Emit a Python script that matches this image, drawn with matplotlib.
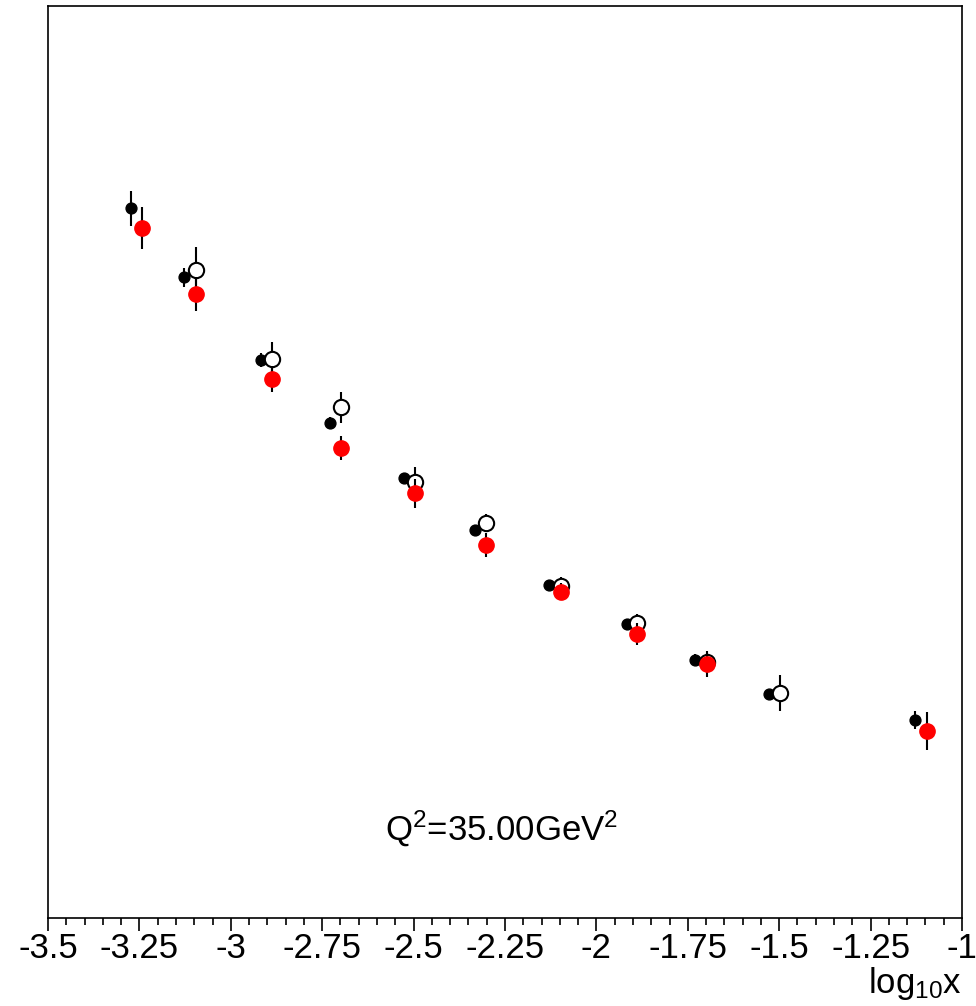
import matplotlib
matplotlib.use("Agg")
from matplotlib import pyplot as plt
from matplotlib.ticker import MultipleLocator, FixedFormatter, FixedLocator

plt.rcParams['font.family'] = ['Liberation Sans', 'DejaVu Sans']
plt.rcParams['mathtext.fontset'] = 'custom'
plt.rcParams['mathtext.rm'] = 'Liberation Sans'
plt.rcParams['mathtext.it'] = 'Liberation Sans'
plt.rcParams['mathtext.sf'] = 'Liberation Sans'

# black filled dots
x_black = [-3.273, -3.128, -2.917, -2.729, -2.526, -2.332, -2.130, -1.916, -1.730, -1.528, -1.129]
y_black = [1.556, 1.405, 1.224, 1.085, 0.964, 0.851, 0.730, 0.644, 0.566, 0.491, 0.434]
e_black = [0.039, 0.021, 0.015, 0.013, 0.011, 0.011, 0.010, 0.012, 0.012, 0.010, 0.019]

# open circles
x_open = [-3.095, -2.887, -2.699, -2.496, -2.302, -2.097, -1.889, -1.697, -1.498]
y_open = [1.421, 1.226, 1.120, 0.957, 0.866, 0.727, 0.646, 0.562, 0.493]
e_open = [0.050, 0.037, 0.034, 0.031, 0.020, 0.021, 0.020, 0.019, 0.039]

# red filled circles
x_red = [-3.243, -3.095, -2.887, -2.699, -2.496, -2.302, -2.097, -1.889, -1.697, -1.096]
y_red = [1.513, 1.368, 1.182, 1.030, 0.931, 0.818, 0.716, 0.623, 0.557, 0.410]
e_red = [0.046, 0.037, 0.028, 0.026, 0.031, 0.026, 0.018, 0.024, 0.028, 0.041]

xticks = [-3.5, -3.25, -3, -2.75, -2.5, -2.25, -2, -1.75, -1.5, -1.25, -1]
xtick_labels = ['-3.5', '-3.25', '-3', '-2.75', '-2.5', '-2.25', '-2', '-1.75', '-1.5', '-1.25', '-1']

fig = plt.figure(figsize=(9.76, 10.06), dpi=100)
ax = fig.add_axes([48 / 976, 88 / 1006, 914 / 976, 912 / 1006])

ax.errorbar(x_black, y_black, yerr=e_black, fmt='o', color='black', ms=7.8,
            elinewidth=1.5, capsize=0, zorder=3)
ax.errorbar(x_open, y_open, yerr=e_open, fmt='o', color='black', mfc='white',
            mec='black', mew=1.5, ms=11, elinewidth=1.5, capsize=0, zorder=4)
ax.errorbar(x_red, y_red, yerr=e_red, fmt='o', color='red', ecolor='black', ms=11,
            elinewidth=1.5, capsize=0, zorder=5)

ax.text(-2.26, 0.195, r'Q$^{2}$=35.00GeV$^{2}$', ha='center', va='center', fontsize=25)

ax.set_xlim(-3.5, -1)
ax.set_ylim(0.0, 2.0)
ax.xaxis.set_major_locator(FixedLocator(xticks))
ax.xaxis.set_major_formatter(FixedFormatter(xtick_labels))
ax.xaxis.set_minor_locator(MultipleLocator(0.05))
ax.tick_params(axis='x', which='major', direction='out', length=9, width=1.2,
               labelsize=25, pad=1)
ax.tick_params(axis='x', which='minor', direction='out', length=5, width=1.2)
ax.set_yticks([])
for s in ax.spines.values():
    s.set_linewidth(1.2)

fig.text(962 / 976, 4 / 1006, r'log$_{10}$x', ha='right', va='bottom', fontsize=25)

plt.savefig('out.png', dpi=100)
